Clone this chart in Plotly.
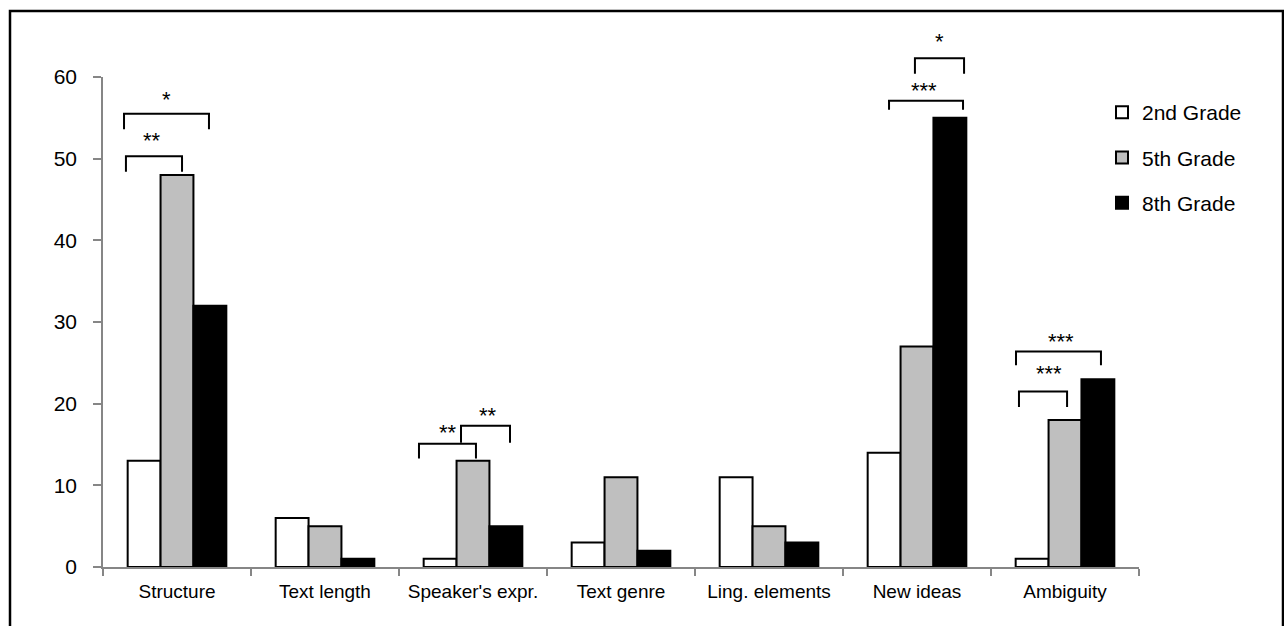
import plotly.graph_objects as go

categories = ["Structure", "Text length", "Speaker's expr.", "Text genre",
              "Ling. elements", "New ideas", "Ambiguity"]
grade2 = [13, 6, 1, 3, 11, 14, 1]
grade5 = [48, 5, 13, 11, 5, 27, 18]
grade8 = [32, 1, 5, 2, 3, 55, 23]
series_names = ["2nd Grade", "5th Grade", "8th Grade"]
y_ticks = [0, 10, 20, 30, 40, 50, 60]

# significance brackets: (category index, x-offset start, x-offset end,
#   bracket level, leg end level, label, label level, label x-offset)
brackets = [
    (0, -0.358, 0.216, 55.5, 53.6, "*", 57.2, -0.07),
    (0, -0.345, 0.034, 50.3, 48.4, "**", 52.2, -0.17),
    (2, -0.365, 0.020, 15.1, 13.3, "**", 16.5, -0.17),
    (2, -0.081, 0.250, 17.3, 15.2, "**", 18.5, 0.10),
    (5, -0.014, 0.318, 62.3, 60.4, "*", 64.3, 0.155),
    (5, -0.189, 0.311, 57.1, 56.0, "***", 58.3, 0.05),
    (6, -0.331, 0.243, 26.4, 24.7, "***", 27.6, -0.03),
    (6, -0.311, 0.014, 21.5, 19.6, "***", 23.7, -0.11),
]

FONT = "Liberation Sans, Arial, sans-serif"
AXIS_GRAY = "#868686"
YMAX = 60

fig = go.Figure()
fills = ["#FFFFFF", "#BFBFBF", "#000000"]
for name, vals, col in zip(series_names, [grade2, grade5, grade8], fills):
    fig.add_trace(go.Bar(
        x=categories, y=vals, name=name, legendgroup=name,
        marker=dict(color=col, line=dict(color="#000000", width=2)),
    ))

shapes = []
annotations = []
for (ci, a, b, lvl, leg, lab, ly, lx) in brackets:
    x0, x1 = ci + a, ci + b
    shapes.append(dict(
        type="path", xref="x", yref="paper",
        path=f"M {x0},{leg/YMAX} L {x0},{lvl/YMAX} L {x1},{lvl/YMAX} L {x1},{leg/YMAX}",
        line=dict(color="#000000", width=2),
    ))
    annotations.append(dict(
        x=ci + lx, y=ly / YMAX, xref="x", yref="paper", text=lab,
        showarrow=False, font=dict(family=FONT, size=22, color="#000000"),
        xanchor="center", yanchor="middle",
    ))

# outer border of the figure
shapes.append(dict(
    type="rect", xref="paper", yref="paper",
    x0=(10 - 103) / 1036, x1=(1283 - 103) / 1036,
    y0=(567 - 660) / 490, y1=(567 - 11) / 490,
    line=dict(color="#000000", width=2.5), fillcolor="rgba(0,0,0,0)",
))

fig.update_layout(
    width=1284, height=626,
    margin=dict(l=103, r=145, t=77, b=59, autoexpand=False),
    paper_bgcolor="#FFFFFF", plot_bgcolor="#FFFFFF",
    barmode="group", bargap=1/3, bargroupgap=0,
    font=dict(family=FONT, size=19, color="#000000"),
    showlegend=True,
    legend=dict(
        x=(1102 - 103) / 1036, y=(567 - 92) / 490, xanchor="left", yanchor="top",
        font=dict(family=FONT, size=21, color="#000000"),
        bgcolor="rgba(0,0,0,0)", tracegroupgap=15, traceorder="grouped",
    ),
    shapes=shapes, annotations=annotations,
)
fig.update_xaxes(
    showline=True, linecolor=AXIS_GRAY, linewidth=1.5,
    ticks="outside", tickson="boundaries", ticklen=7, tickcolor=AXIS_GRAY, tickwidth=1.5,
    showgrid=False, tickangle=0, tickfont=dict(family=FONT, size=19, color="#000000"),
    ticklabelstandoff=6,
)
fig.update_yaxes(
    range=[0, YMAX], tickvals=y_ticks,
    showline=True, linecolor=AXIS_GRAY, linewidth=1.5,
    ticks="outside", ticklen=8, tickcolor=AXIS_GRAY, tickwidth=1.5,
    showgrid=False, zeroline=False,
    tickfont=dict(family=FONT, size=21, color="#000000"),
    ticklabelstandoff=12,
)

fig.write_html("out.html")
